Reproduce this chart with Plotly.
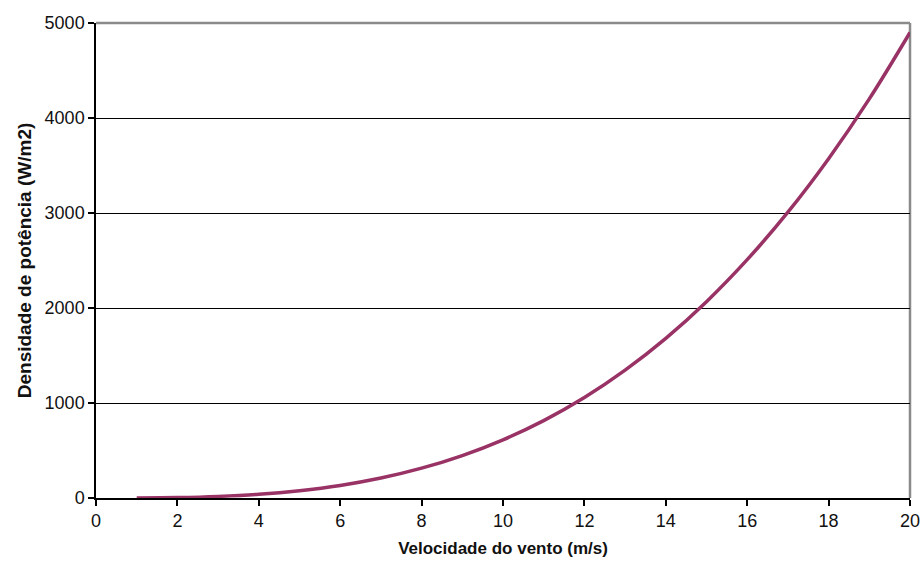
import plotly.graph_objects as go

velocidade = [1, 2, 3, 4, 5, 6, 7, 8, 9, 10, 11, 12, 13, 14, 15, 16, 17, 18, 19, 20]
densidade = [0.6, 5, 17, 39, 77, 132, 210, 314, 447, 613, 815, 1058, 1346, 1681,
             2067, 2509, 3009, 3572, 4201, 4900]
x_ticks = [0, 2, 4, 6, 8, 10, 12, 14, 16, 18, 20]
y_ticks = [0, 1000, 2000, 3000, 4000, 5000]

fig = go.Figure()
fig.add_trace(go.Scatter(x=velocidade, y=densidade, mode="lines",
                         line=dict(color="#993366", width=3.5, shape="spline"),
                         showlegend=False, hoverinfo="skip"))

# grey top and right frame
fig.add_shape(type="line", xref="paper", yref="paper", x0=0, x1=1, y0=1, y1=1,
              line=dict(color="#8a8a8a", width=2.5), layer="above")
fig.add_shape(type="line", xref="paper", yref="paper", x0=1, x1=1, y0=0, y1=1,
              line=dict(color="#8a8a8a", width=2.5), layer="below")

fig.update_layout(
    width=922, height=564,
    margin=dict(l=96, r=12, t=23, b=66, autoexpand=False),
    paper_bgcolor="white", plot_bgcolor="white",
    font=dict(family="Liberation Sans, Arial", size=17, color="#111111"),
    xaxis=dict(range=[0, 20], tickvals=x_ticks, showgrid=False, zeroline=False,
               showline=True, linecolor="black", linewidth=1.5,
               ticks="outside", ticklen=6, tickcolor="black", tickwidth=1.5,
               tickfont=dict(size=18), automargin=False,
               title=dict(text="<b>Velocidade do vento (m/s)</b>", font=dict(size=17), standoff=12)),
    yaxis=dict(range=[0, 5000], tickvals=y_ticks, showgrid=True, gridcolor="black",
               gridwidth=1, zeroline=False,
               showline=True, linecolor="black", linewidth=1.5,
               ticks="outside", ticklen=6, tickcolor="black", tickwidth=1.5,
               tickfont=dict(size=18), automargin=False,
               title=dict(text="<b>Densidade de potência (W/m2)</b>", font=dict(size=19), standoff=8)),
)

fig.write_html("out.html", config={"displayModeBar": False},
               post_script="document.body.style.margin='0';document.body.style.overflow='hidden';")
